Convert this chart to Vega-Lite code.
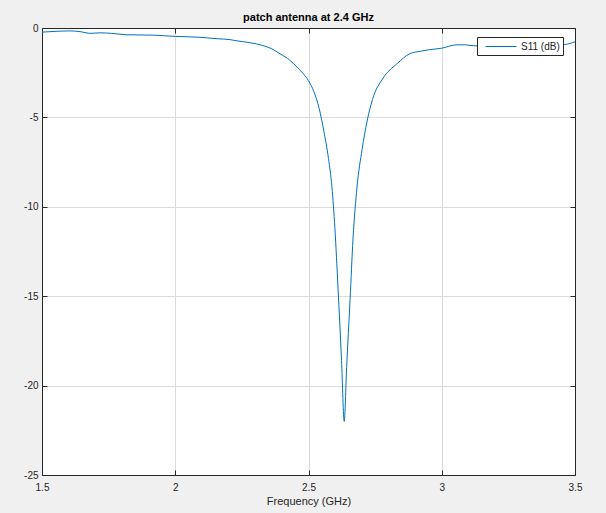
{
  "$schema": "https://vega.github.io/schema/vega-lite/v6.json",
  "width": 533,
  "height": 447,
  "autosize": "none",
  "padding": {"left": 42, "top": 28, "right": 31, "bottom": 38},
  "background": "#f0f0f0",
  "title": {"text": "patch antenna at 2.4 GHz", "font": "Liberation Sans", "fontSize": 11, "fontWeight": "bold", "color": "#000000", "offset": 0, "anchor": "middle"},
  "data": {"values": [
    {"f": 1.5, "s": -0.23, "series": "S11 (dB)"},
    {"f": 1.56, "s": -0.18, "series": "S11 (dB)"},
    {"f": 1.605, "s": -0.16, "series": "S11 (dB)"},
    {"f": 1.65, "s": -0.22, "series": "S11 (dB)"},
    {"f": 1.68, "s": -0.3, "series": "S11 (dB)"},
    {"f": 1.718, "s": -0.27, "series": "S11 (dB)"},
    {"f": 1.76, "s": -0.3, "series": "S11 (dB)"},
    {"f": 1.819, "s": -0.38, "series": "S11 (dB)"},
    {"f": 1.917, "s": -0.4, "series": "S11 (dB)"},
    {"f": 2.0, "s": -0.47, "series": "S11 (dB)"},
    {"f": 2.082, "s": -0.51, "series": "S11 (dB)"},
    {"f": 2.157, "s": -0.6, "series": "S11 (dB)"},
    {"f": 2.205, "s": -0.65, "series": "S11 (dB)"},
    {"f": 2.232, "s": -0.72, "series": "S11 (dB)"},
    {"f": 2.28, "s": -0.82, "series": "S11 (dB)"},
    {"f": 2.329, "s": -0.98, "series": "S11 (dB)"},
    {"f": 2.36, "s": -1.15, "series": "S11 (dB)"},
    {"f": 2.393, "s": -1.44, "series": "S11 (dB)"},
    {"f": 2.43, "s": -1.8, "series": "S11 (dB)"},
    {"f": 2.457, "s": -2.19, "series": "S11 (dB)"},
    {"f": 2.48, "s": -2.55, "series": "S11 (dB)"},
    {"f": 2.5, "s": -2.95, "series": "S11 (dB)"},
    {"f": 2.52, "s": -3.55, "series": "S11 (dB)"},
    {"f": 2.54, "s": -4.5, "series": "S11 (dB)"},
    {"f": 2.558, "s": -5.8, "series": "S11 (dB)"},
    {"f": 2.575, "s": -7.3, "series": "S11 (dB)"},
    {"f": 2.588, "s": -8.9, "series": "S11 (dB)"},
    {"f": 2.599, "s": -11.2, "series": "S11 (dB)"},
    {"f": 2.611, "s": -14.6, "series": "S11 (dB)"},
    {"f": 2.624, "s": -18.6, "series": "S11 (dB)"},
    {"f": 2.634, "s": -22.0, "series": "S11 (dB)"},
    {"f": 2.643, "s": -19.0, "series": "S11 (dB)"},
    {"f": 2.656, "s": -15.2, "series": "S11 (dB)"},
    {"f": 2.667, "s": -11.8, "series": "S11 (dB)"},
    {"f": 2.682, "s": -8.9, "series": "S11 (dB)"},
    {"f": 2.701, "s": -6.8, "series": "S11 (dB)"},
    {"f": 2.72, "s": -5.2, "series": "S11 (dB)"},
    {"f": 2.74, "s": -4.0, "series": "S11 (dB)"},
    {"f": 2.78, "s": -2.8, "series": "S11 (dB)"},
    {"f": 2.832, "s": -2.0, "series": "S11 (dB)"},
    {"f": 2.881, "s": -1.43, "series": "S11 (dB)"},
    {"f": 2.92, "s": -1.3, "series": "S11 (dB)"},
    {"f": 2.95, "s": -1.22, "series": "S11 (dB)"},
    {"f": 3.0, "s": -1.13, "series": "S11 (dB)"},
    {"f": 3.057, "s": -0.94, "series": "S11 (dB)"},
    {"f": 3.087, "s": -0.94, "series": "S11 (dB)"},
    {"f": 3.125, "s": -1.0, "series": "S11 (dB)"},
    {"f": 3.2, "s": -1.0, "series": "S11 (dB)"},
    {"f": 3.3, "s": -1.0, "series": "S11 (dB)"},
    {"f": 3.4, "s": -0.95, "series": "S11 (dB)"},
    {"f": 3.462, "s": -0.92, "series": "S11 (dB)"},
    {"f": 3.5, "s": -0.77, "series": "S11 (dB)"}
  ]},
  "layer": [
    {
      "mark": {"type": "line", "strokeWidth": 1, "interpolate": "monotone"},
      "encoding": {
        "x": {"field": "f", "type": "quantitative", "scale": {"domain": [1.5, 3.5], "nice": false, "zero": false},
          "axis": {"values": [1.5, 2, 2.5, 3, 3.5], "labelExpr": "toString(datum.value)", "labelFlush": false, "title": "Frequency (GHz)", "orient": "bottom", "labelPadding": 12, "titlePadding": 3}},
        "y": {"field": "s", "type": "quantitative", "scale": {"domain": [-25, 0], "nice": false, "zero": false},
          "axis": {"values": [-25, -20, -15, -10, -5, 0], "labelExpr": "toString(datum.value)", "labelFlush": false, "title": null, "orient": "left", "labelPadding": 9}},
        "color": {"field": "series", "type": "nominal", "scale": {"range": ["#0072BD"]},
          "legend": {"title": null, "orient": "none", "legendX": 435, "legendY": 9, "symbolType": "M-0.17,0H5", "symbolSize": 144, "symbolStrokeWidth": 1,
            "fillColor": "#ffffff", "strokeColor": "#262626", "padding": 3, "labelFont": "Liberation Sans", "labelFontSize": 10, "labelColor": "#262626", "labelOffset": 28}}
      }
    },
    {
      "mark": {"type": "line", "opacity": 0},
      "encoding": {
        "x": {"field": "f", "type": "quantitative", "axis": {"values": [1.5, 2, 2.5, 3, 3.5], "orient": "top", "labels": false, "title": null, "grid": false}},
        "y": {"field": "s", "type": "quantitative", "axis": {"values": [-25, -20, -15, -10, -5, 0], "orient": "right", "labels": false, "title": null, "grid": false}}
      }
    }
  ],
  "resolve": {"axis": {"x": "independent", "y": "independent"}},
  "config": {
    "view": {"fill": "#ffffff", "stroke": "#262626", "strokeWidth": 1},
    "axis": {
      "labelFont": "Liberation Sans", "labelFontSize": 10, "labelColor": "#262626",
      "titleFont": "Liberation Sans", "titleFontSize": 11, "titleFontWeight": "normal", "titleColor": "#262626",
      "domainColor": "#262626", "tickColor": "#262626", "tickSize": -5,
      "gridColor": "#dcdcdc", "gridWidth": 1
    }
  }
}
